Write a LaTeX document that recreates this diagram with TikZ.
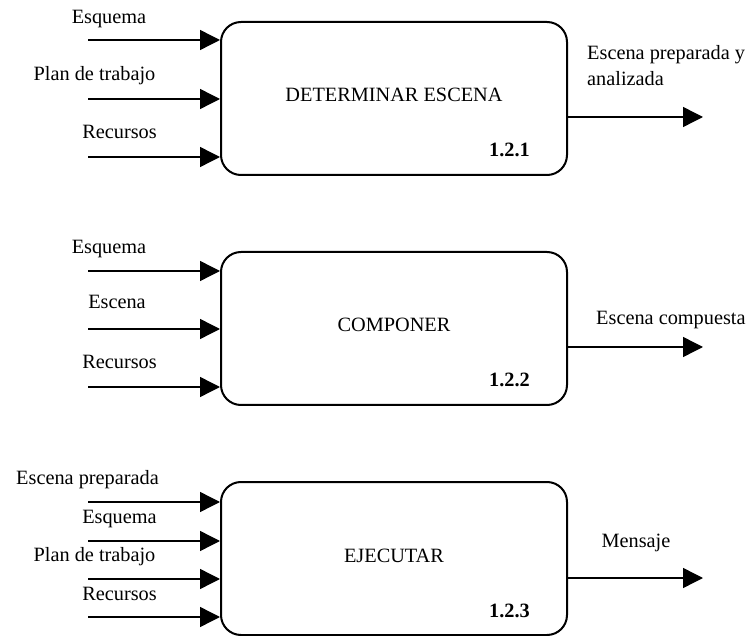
\documentclass[tikz,border=0pt]{standalone}
\usepackage{fontspec}
\setmainfont{Liberation Serif}
\usetikzlibrary{arrows.meta}
\begin{document}
\begin{tikzpicture}[x=1pt,y=-1pt,
  every node/.style={font=\fontsize{20.3}{26}\selectfont, inner sep=0pt},
  process/.style={draw, line width=2pt, rounded corners=20pt,
    minimum width=346pt, minimum height=153pt},
  flowin/.style={line width=1.4pt, -{Triangle[length=20pt,width=20pt]}},
  flowout/.style={line width=1.4pt, -{Triangle[length=20pt,width=20pt]}},
  lbl/.style={anchor=base},
  lblw/.style={anchor=base west},
  code/.style={anchor=base east, font=\fontsize{20.3}{26}\selectfont\bfseries}]
\useasboundingbox (0,0) rectangle (753,636);

% ---------- 1.2.1 ----------
\node[process] (b1) at (394,98.5) {};
\node[lbl] (t1) at (394,102) {DETERMINAR ESCENA};
\node[code] (n1) at (530,157) {1.2.1};
\coordinate (i11) at (88,40);
\coordinate (i12) at (88,99);
\coordinate (i13) at (88,157);
\draw[flowin] (i11) -- (i11 -| b1.west);
\draw[flowin] (i12) -- (i12 -| b1.west);
\draw[flowin] (i13) -- (i13 -| b1.west);
\node[lbl] (l11) at (109,24) {Esquema};
\node[lbl] (l12) at (94.5,81) {Plan de trabajo};
\node[lbl] (l13) at (119.5,139) {Recursos};
\coordinate (o1) at (703,117);
\draw[flowout] (o1 -| b1.east) -- (o1);
\node[anchor=north west, align=left] (lo1) at (587,45.5) {Escena preparada y\\analizada};

% ---------- 1.2.2 ----------
\node[process] (b2) at (394,328.5) {};
\node[lbl] (t2) at (394,332) {COMPONER};
\node[code] (n2) at (530,387) {1.2.2};
\coordinate (i21) at (88,271);
\coordinate (i22) at (88,329);
\coordinate (i23) at (88,387);
\draw[flowin] (i21) -- (i21 -| b2.west);
\draw[flowin] (i22) -- (i22 -| b2.west);
\draw[flowin] (i23) -- (i23 -| b2.west);
\node[lbl] (l21) at (109,254) {Esquema};
\node[lbl] (l22) at (117,309) {Escena};
\node[lbl] (l23) at (119.5,369) {Recursos};
\coordinate (o2) at (703,347);
\draw[flowout] (o2 -| b2.east) -- (o2);
\node[lblw] (lo2) at (596,325) {Escena compuesta};

% ---------- 1.2.3 ----------
\node[process] (b3) at (394,558.5) {};
\node[lbl] (t3) at (394,562) {EJECUTAR};
\node[code] (n3) at (530,617) {1.2.3};
\coordinate (i31) at (88,502);
\coordinate (i32) at (88,541);
\coordinate (i33) at (88,579);
\coordinate (i34) at (88,617);
\draw[flowin] (i31) -- (i31 -| b3.west);
\draw[flowin] (i32) -- (i32 -| b3.west);
\draw[flowin] (i33) -- (i33 -| b3.west);
\draw[flowin] (i34) -- (i34 -| b3.west);
\node[lbl] (l31) at (87.5,485) {Escena preparada};
\node[lbl] (l32) at (119.5,523) {Esquema};
\node[lbl] (l33) at (94.5,561) {Plan de trabajo};
\node[lbl] (l34) at (119.5,600) {Recursos};
\coordinate (o3) at (703,578);
\draw[flowout] (o3 -| b3.east) -- (o3);
\node[lbl] (lo3) at (636,547) {Mensaje};
\end{tikzpicture}
\end{document}
